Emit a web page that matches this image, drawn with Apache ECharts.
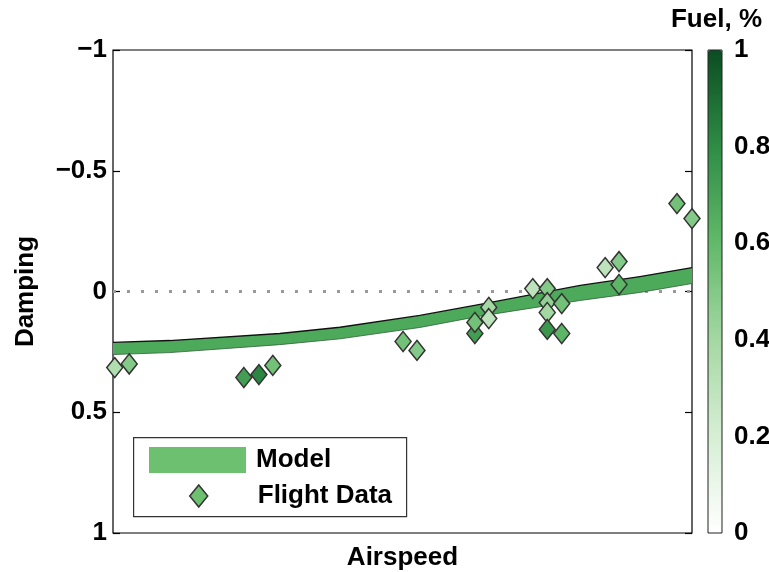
<!DOCTYPE html>
<html>
<head>
<meta charset="utf-8">
<script src="https://cdn.jsdelivr.net/npm/echarts@6/dist/echarts.min.js"></script>
<style>
  html, body { margin: 0; padding: 0; background: #fff; }
  #chart { width: 769px; height: 572px; }
</style>
</head>
<body>
<div id="chart"></div>
<script>
  // model band (airspeed 0..100, damping top / bottom edge)
  const modelX = [0, 9.8, 28.8, 39.2, 53.0, 63.4, 80.7, 91.0, 100];
  const modelTop = [0.211, 0.203, 0.174, 0.148, 0.099, 0.053, -0.025, -0.062, -0.099];
  const modelBottom = [0.261, 0.253, 0.220, 0.196, 0.149, 0.102, 0.037, 0.004, -0.033];

  // flight data points
  const flightX = [0.3, 2.8, 22.6, 25.2, 27.6, 50.1, 52.5, 62.5, 62.5, 64.9, 64.9, 72.5,
    75.0, 75.0, 75.0, 75.0, 77.5, 77.5, 85.0, 87.4, 87.4, 97.4, 100];
  const flightY = [0.315, 0.30, 0.356, 0.344, 0.306, 0.207, 0.244, 0.174, 0.128, 0.066, 0.112, -0.012,
    -0.012, 0.046, 0.087, 0.157, 0.05, 0.174, -0.099, -0.124, -0.029, -0.364, -0.302];
  const flightFuel = [0.35, 0.5, 0.72, 0.82, 0.55, 0.55, 0.5, 0.72, 0.55, 0.4, 0.3, 0.3,
    0.5, 0.45, 0.4, 0.75, 0.55, 0.62, 0.3, 0.5, 0.62, 0.55, 0.5];

  const fuelColors = ['#ffffff', '#d6eed4', '#a4d8a3', '#62b96a', '#2e8c45', '#0b4d22'];

  const font = 'Liberation Sans, Arial, sans-serif';
  const fs = 26;

  const flight = flightX.map((x, i) => [x, flightY[i], flightFuel[i]]);
  const model = modelX.map((x, i) => [x, modelTop[i], modelBottom[i]]);

  const fmtY = v => (v < 0 ? '\u2212' + Math.abs(v) : String(v));

  function renderBand(params, api) {
    if (params.dataIndex !== 0) return;
    const top = modelX.map((x, i) => api.coord([x, modelTop[i]]));
    const bot = modelX.map((x, i) => api.coord([x, modelBottom[i]]));
    return {
      type: 'group',
      children: [
        { type: 'polygon', shape: { points: top.concat(bot.slice().reverse()) }, style: { fill: '#4eaa5b' } },
        { type: 'polyline', shape: { points: top }, style: { stroke: '#111', lineWidth: 1.3, fill: null } },
        { type: 'polyline', shape: { points: bot }, style: { stroke: '#2f5f38', lineWidth: 0.8, fill: null } }
      ]
    };
  }

  const chart = echarts.init(document.getElementById('chart'));
  chart.setOption({
    animation: false,
    textStyle: { fontFamily: font },
    title: {
      text: 'Fuel, %', right: 2, top: 2,
      textStyle: { fontFamily: font, fontWeight: 'bold', fontSize: fs, color: '#000' }
    },
    grid: [
      { left: 113, top: 50, width: 579, height: 483, outerBoundsMode: 'none', containLabel: false,
        show: true, borderColor: '#000', borderWidth: 1.2, backgroundColor: '#fff' },
      { left: 708, top: 50, width: 14, height: 483, outerBoundsMode: 'none', containLabel: false,
        show: true, borderColor: '#222', borderWidth: 1, backgroundColor: 'transparent', z: 10 }
    ],
    xAxis: [
      {
        gridIndex: 0, type: 'value', min: 0, max: 100,
        name: 'Airspeed', nameLocation: 'middle', nameGap: 12,
        nameTextStyle: { fontFamily: font, fontWeight: 'bold', fontSize: fs, color: '#000' },
        axisLine: { show: false }, axisTick: { show: false }, axisLabel: { show: false }, splitLine: { show: false }
      },
      { gridIndex: 1, type: 'value', show: false }
    ],
    yAxis: [
      {
        gridIndex: 0, type: 'value', min: -1, max: 1, interval: 0.5, inverse: true,
        name: 'Damping', nameLocation: 'middle', nameGap: 74, nameRotate: 90,
        nameTextStyle: { fontFamily: font, fontWeight: 'bold', fontSize: fs, color: '#000' },
        axisLine: { show: false },
        axisTick: { show: true, inside: true, length: 7, lineStyle: { color: '#000', width: 1.2 } },
        axisLabel: { margin: 6, fontFamily: font, fontWeight: 'bold', fontSize: fs, color: '#000', formatter: fmtY },
        splitLine: { show: false }
      },
      {
        gridIndex: 0, type: 'value', min: -1, max: 1, interval: 0.5, inverse: true, position: 'right',
        axisLine: { show: false },
        axisTick: { show: true, inside: true, length: 7, lineStyle: { color: '#000', width: 1.2 } },
        axisLabel: { show: false }, splitLine: { show: false }
      },
      {
        gridIndex: 1, type: 'value', min: 0, max: 1, interval: 0.2, position: 'right',
        axisLine: { show: false }, axisTick: { show: false }, splitLine: { show: false },
        axisLabel: { margin: 12, fontFamily: font, fontWeight: 'bold', fontSize: fs, color: '#000' }
      }
    ],
    visualMap: {
      type: 'continuous', min: 0, max: 1, dimension: 2, seriesIndex: 2,
      left: 708, top: 50, itemWidth: 14, itemHeight: 483, padding: 0,
      calculable: false, hoverLink: false, z: 1,
      inRange: { color: fuelColors }
    },
    legend: [
      {
        data: [{ name: 'Model', icon: 'rect', itemStyle: { color: '#6cc070', borderWidth: 0 } }],
        left: 149, top: 447, itemWidth: 97, itemHeight: 26, padding: 0, z: 20,
        textStyle: { fontFamily: font, fontWeight: 'bold', fontSize: fs, color: '#000', padding: [0, 0, 0, 5] }
      },
      {
        data: [{ name: 'Flight Data', icon: 'diamond', itemStyle: { color: '#6cc070', borderColor: '#333', borderWidth: 1.5 } }],
        left: 189, top: 483, itemWidth: 18, itemHeight: 22, padding: 0, z: 20,
        textStyle: { fontFamily: font, fontWeight: 'bold', fontSize: fs, color: '#000', padding: [0, 0, 0, 45] }
      }
    ],
    graphic: [
      {
        type: 'rect', left: 133, top: 437, z: 15,
        shape: { width: 273, height: 79 },
        style: { fill: '#fff', stroke: '#333', lineWidth: 1.2 }
      }
    ],
    series: [
      {
        name: 'Model', type: 'custom', xAxisIndex: 0, yAxisIndex: 0,
        data: model, encode: { x: 0, y: [1, 2] }, renderItem: renderBand,
        itemStyle: { color: '#6cc070' }, z: 3
      },
      {
        name: 'zero', type: 'line', xAxisIndex: 0, yAxisIndex: 0,
        data: [[0, 0], [100, 0]], symbol: 'none', silent: true,
        lineStyle: { color: '#999', width: 3, type: [3, 11] }, z: 1
      },
      {
        name: 'Flight Data', type: 'scatter', xAxisIndex: 0, yAxisIndex: 0,
        data: flight, symbol: 'diamond', symbolSize: [16, 20],
        itemStyle: { color: '#6cc070', borderColor: '#333', borderWidth: 1.5, opacity: 1 },
        z: 5
      }
    ]
  });
</script>
</body>
</html>
